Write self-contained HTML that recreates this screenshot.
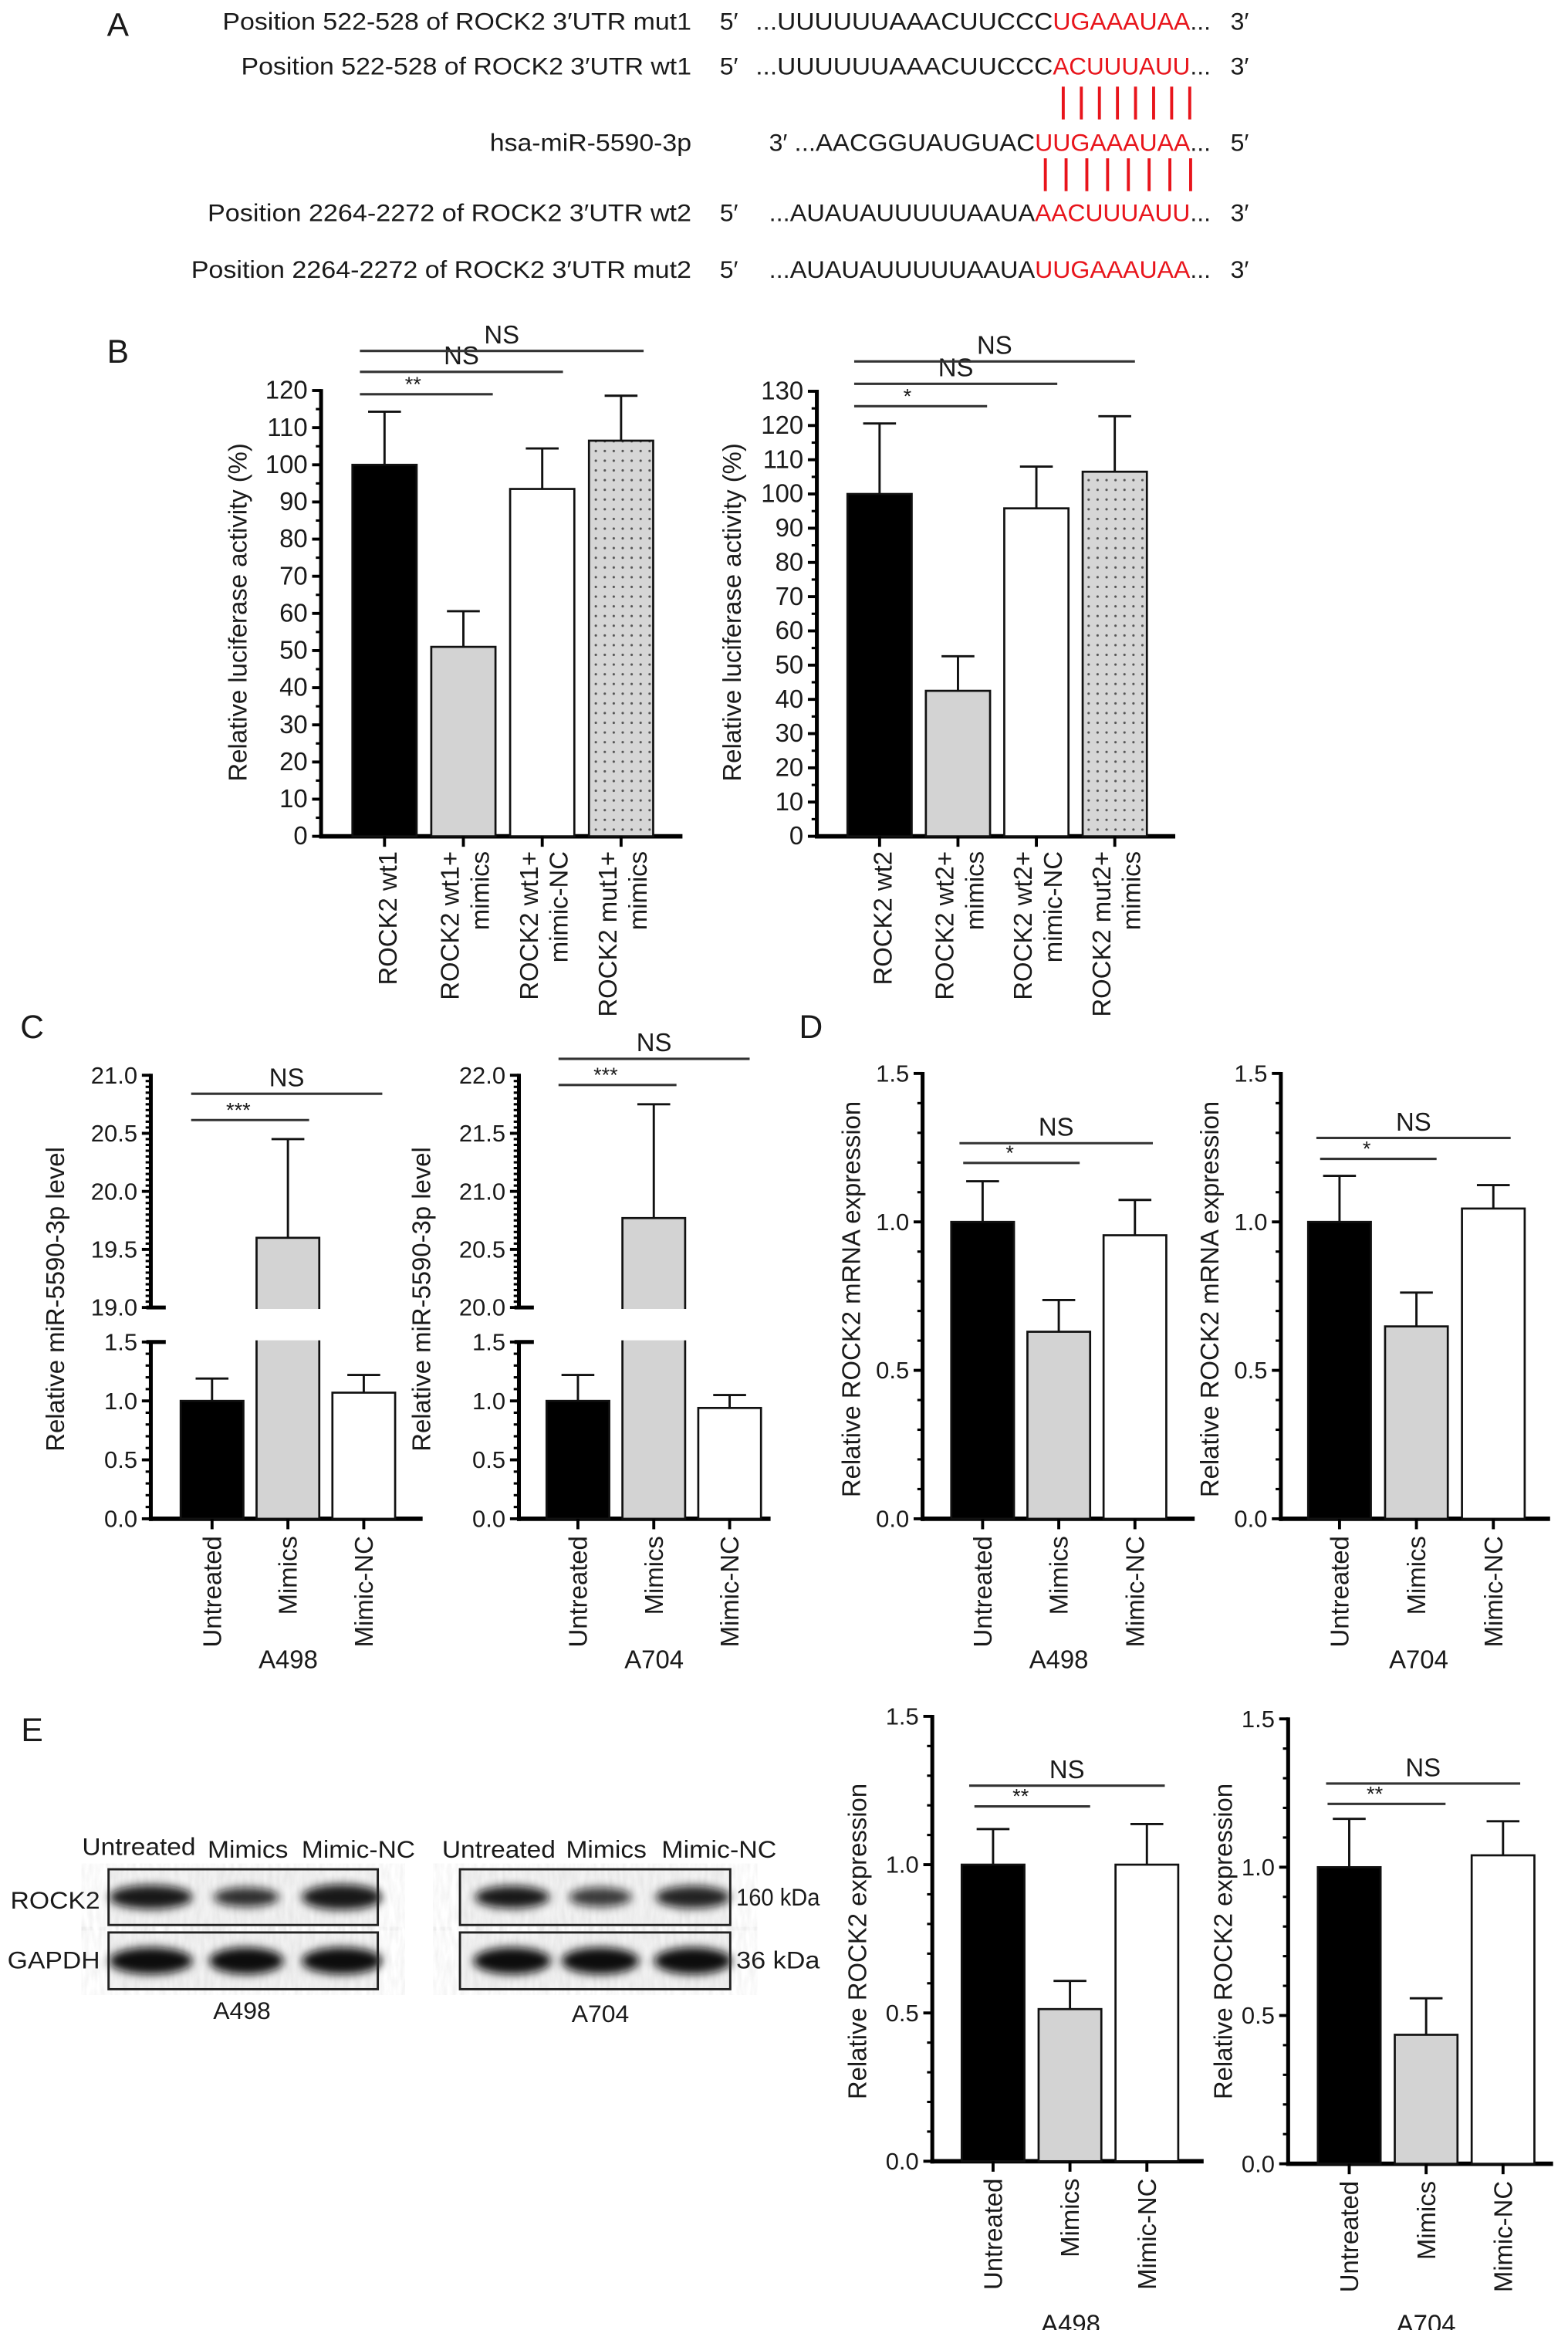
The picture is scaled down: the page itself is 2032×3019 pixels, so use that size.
<!DOCTYPE html>
<html><head><meta charset="utf-8"><style>
html,body{margin:0;padding:0;background:#fff}
svg{display:block}
text{font-family:"Liberation Sans",Arial,sans-serif;fill:#1a1a1a}
</style></head><body>
<svg id="fig" width="2032" height="3019" viewBox="0 0 1050 1560.2" preserveAspectRatio="none" xmlns="http://www.w3.org/2000/svg">
<defs>
<pattern id="dots" width="6" height="6.5" patternUnits="userSpaceOnUse">
<rect width="6" height="6.5" fill="#d6d6d6"/><circle cx="3" cy="3" r="0.8" fill="#555"/></pattern>
<filter id="blur" x="-30%" y="-60%" width="160%" height="220%"><feGaussianBlur stdDeviation="3"/></filter>
<filter id="noise"><feTurbulence type="fractalNoise" baseFrequency="0.35 0.08" numOctaves="2" seed="3"/><feColorMatrix type="matrix" values="0 0 0 0 0.3  0 0 0 0 0.3  0 0 0 0 0.3  0 0 0 0.35 -0.1"/></filter>
</defs>
<!-- Panel A -->
<g font-size="16.5">
<text x="79" y="24" font-size="22" text-anchor="middle">A</text>
<text x="149" y="20" textLength="314" lengthAdjust="spacingAndGlyphs">Position 522-528 of ROCK2 3′UTR mut1</text>
<text x="482" y="20">5′</text>
<text x="506" y="20" textLength="199" lengthAdjust="spacingAndGlyphs">...UUUUUUAAACUUCCC</text>
<text x="705" y="20" textLength="92" lengthAdjust="spacingAndGlyphs" style="fill:#e8141b">UGAAAUAA</text>
<text x="797" y="20">...</text>
<text x="824" y="20">3′</text>

<text x="161.5" y="50" textLength="301.5" lengthAdjust="spacingAndGlyphs">Position 522-528 of ROCK2 3′UTR wt1</text>
<text x="482" y="50">5′</text>
<text x="506" y="50" textLength="199" lengthAdjust="spacingAndGlyphs">...UUUUUUAAACUUCCC</text>
<text x="705" y="50" textLength="92" lengthAdjust="spacingAndGlyphs" style="fill:#e8141b">ACUUUAUU</text>
<text x="797" y="50">...</text>
<text x="824" y="50">3′</text>

<text x="328" y="101" textLength="135" lengthAdjust="spacingAndGlyphs">hsa-miR-5590-3p</text>
<text x="515" y="101">3′</text>
<text x="532" y="101" textLength="161" lengthAdjust="spacingAndGlyphs">...AACGGUAUGUAC</text>
<text x="693" y="101" textLength="104" lengthAdjust="spacingAndGlyphs" style="fill:#e8141b">UUGAAAUAA</text>
<text x="797" y="101">...</text>
<text x="824" y="101">5′</text>

<text x="139" y="148" textLength="324" lengthAdjust="spacingAndGlyphs">Position 2264-2272 of ROCK2 3′UTR wt2</text>
<text x="482" y="148">5′</text>
<text x="515" y="148" textLength="178" lengthAdjust="spacingAndGlyphs">...AUAUAUUUUUAAUA</text>
<text x="693" y="148" textLength="104" lengthAdjust="spacingAndGlyphs" style="fill:#e8141b">AACUUUAUU</text>
<text x="797" y="148">...</text>
<text x="824" y="148">3′</text>

<text x="128" y="186" textLength="335" lengthAdjust="spacingAndGlyphs">Position 2264-2272 of ROCK2 3′UTR mut2</text>
<text x="482" y="186">5′</text>
<text x="515" y="186" textLength="178" lengthAdjust="spacingAndGlyphs">...AUAUAUUUUUAAUA</text>
<text x="693" y="186" textLength="104" lengthAdjust="spacingAndGlyphs" style="fill:#e8141b">UUGAAAUAA</text>
<text x="797" y="186">...</text>
<text x="824" y="186">3′</text>
<g id="pairs" stroke="#e8141b" stroke-width="2"></g>
</g>

<text x="79" y="243" font-size="22" text-anchor="middle">B</text>
<text x="21.5" y="695" font-size="22" text-anchor="middle">C</text>
<text x="543" y="695" font-size="22" text-anchor="middle">D</text>
<text x="21.5" y="1166" font-size="22" text-anchor="middle">E</text>

<!-- Western blots -->
<g font-size="16.5">
<text x="55" y="1242" textLength="76" lengthAdjust="spacingAndGlyphs">Untreated</text>
<text x="139" y="1244" textLength="54" lengthAdjust="spacingAndGlyphs">Mimics</text>
<text x="202" y="1244" textLength="76" lengthAdjust="spacingAndGlyphs">Mimic-NC</text>
<text x="296" y="1244" textLength="76" lengthAdjust="spacingAndGlyphs">Untreated</text>
<text x="379" y="1244" textLength="54" lengthAdjust="spacingAndGlyphs">Mimics</text>
<text x="443" y="1244" textLength="77" lengthAdjust="spacingAndGlyphs">Mimic-NC</text>
<text x="7" y="1278" textLength="60" lengthAdjust="spacingAndGlyphs">ROCK2</text>
<text x="5" y="1318" textLength="62" lengthAdjust="spacingAndGlyphs">GAPDH</text>
<text x="493" y="1276" textLength="56" lengthAdjust="spacingAndGlyphs">160 kDa</text>
<text x="493" y="1318" textLength="56" lengthAdjust="spacingAndGlyphs">36 kDa</text>
<text x="162" y="1352" text-anchor="middle">A498</text>
<text x="402" y="1354" text-anchor="middle">A704</text>
<g id="blots"></g>
</g>
<g id="charts"></g>
</svg>
<script>
// ---- data arrays ----
const catsB1 = [["ROCK2 wt1"],["ROCK2 wt1+","mimics"],["ROCK2 wt1+","mimic-NC"],["ROCK2 mut1+","mimics"]];
const valsB1 = [100, 51, 93.5, 106.5];
const errsB1 = [114.3, 60.6, 104.4, 118.6];
const ticksB1 = [0,10,20,30,40,50,60,70,80,90,100,110,120];
const catsB2 = [["ROCK2 wt2"],["ROCK2 wt2+","mimics"],["ROCK2 wt2+","mimic-NC"],["ROCK2 mut2+","mimics"]];
const valsB2 = [100, 42.5, 95.8, 106.5];
const errsB2 = [120.6, 52.6, 108, 122.7];
const ticksB2 = [0,10,20,30,40,50,60,70,80,90,100,110,120,130];
const catsCDE = ["Untreated","Mimics","Mimic-NC"];
const valsC1 = [1.0, 19.6, 1.07];
const errsC1 = [1.19, 20.45, 1.22];
const valsC2 = [1.0, 20.77, 0.94];
const errsC2 = [1.22, 21.75, 1.05];
const ticksCLow = ["0.0","0.5","1.0","1.5"];
const ticksC1High = ["19.0","19.5","20.0","20.5","21.0"];
const ticksC2High = ["20.0","20.5","21.0","21.5","22.0"];
const valsD1 = [1.0, 0.63, 0.955];
const errsD1 = [1.137, 0.737, 1.074];
const valsD2 = [1.0, 0.648, 1.045];
const errsD2 = [1.155, 0.762, 1.124];
const valsE1 = [1.0, 0.513, 1.0];
const errsE1 = [1.12, 0.608, 1.137];
const valsE2 = [1.0, 0.435, 1.04];
const errsE2 = [1.163, 0.558, 1.155];
const ticksDE = ["0.0","0.5","1.0","1.5"];

const NS = "http://www.w3.org/2000/svg";
const root = document.getElementById('charts');
function el(tag, attrs, parent, txt){
  const e = document.createElementNS(NS, tag);
  for (const k in attrs) e.setAttribute(k, attrs[k]);
  if (txt !== undefined) e.textContent = txt;
  (parent || root).appendChild(e);
  return e;
}
const fills = ["#000","#d3d3d3","#fff","url(#dots)"];

// base-pair lines
const pg = document.getElementById('pairs');
for (let i=0;i<8;i++){
  const x1 = 712 + i*12.1;
  const l1 = el('line',{x1:x1,x2:x1,y1:58,y2:80},pg);
  
  
  const x2 = 700 + i*13.9;
  const l2 = el('line',{x1:x2,x2:x2,y1:106,y2:128},pg);
  
  
}

// blots
const bg = document.getElementById('blots');
function blot(x0, y0, w, h, centers, widths, dark, name){
  const g = el('g',{},bg);
  
  
  el('rect',{x:x0,y:y0,width:w,height:h,fill:'#f2f2f2'},g);
  el('rect',{x:x0,y:y0,width:w,height:h,filter:'url(#noise)',opacity:0.6},g);
  centers.forEach((c,i)=>{
    const b = el('ellipse',{cx:c,cy:y0+h/2,rx:widths[i]/2,ry:dark[i][1],fill:'#111',opacity:dark[i][0],filter:'url(#blur)'},g);
    
    
  });
  el('rect',{x:x0,y:y0,width:w,height:h,fill:'none',stroke:'#222','stroke-width':1.5},g);
}
blot(72.7,1251.7,180.3,37.3,[101,165,229],[56,44,54],[[0.95,8],[0.85,6.5],[0.95,8.5]],'blot-a498-rock2');
blot(72.7,1294,180.3,38,[101,165,229],[56,50,54],[[1,9],[1,9],[1,9]],'blot-a498-gapdh');
blot(308,1251.7,181,37.3,[343,402,464],[50,42,50],[[0.95,7.5],[0.8,6.5],[0.9,7.5]],'blot-a704-rock2');
blot(308,1294,181,38,[343,402,464],[52,52,52],[[1,9],[1,9],[1,9]],'blot-a704-gapdh');

// generic bar chart
function chart(cfg){
  const g = el('g',{});
  
  
  const n = cfg.vals.length;
  const xc = i => cfg.x0 + cfg.step*i;
  const yv = v => cfg.y0 - (v - cfg.vmin)/(cfg.vmax - cfg.vmin)*(cfg.y0 - cfg.yTop);
  // y axis
  el('line',{x1:cfg.ax,x2:cfg.ax,y1:cfg.yTop-1,y2:cfg.y0+1.5,stroke:'#000','stroke-width':2.6},g);
  el('line',{x1:cfg.ax-1.3,x2:cfg.xEnd,y1:cfg.y0,y2:cfg.y0,stroke:'#000','stroke-width':3},g);
  cfg.ticks.forEach(t=>{
    const v = parseFloat(t), y = yv(v);
    el('line',{x1:cfg.ax-6,x2:cfg.ax,y1:y,y2:y,stroke:'#000','stroke-width':2},g);
    const tl = el('text',{x:cfg.ax-9,y:y+5.5,'text-anchor':'end','font-size':cfg.tfs||16},g,t);
    
    
  });
  for (let k=0;k<(cfg.ticks.length-1)*cfg.minor;k++){
    const v0 = parseFloat(cfg.ticks[0]), v1 = parseFloat(cfg.ticks[1]);
    if (k % cfg.minor === 0) continue;
    const y = yv(v0 + (v1-v0)*k/cfg.minor);
    el('line',{x1:cfg.ax-3.5,x2:cfg.ax,y1:y,y2:y,stroke:'#000','stroke-width':1.6},g);
  }
  // bars
  cfg.vals.forEach((v,i)=>{
    const c = xc(i);
    const top = cfg.topFn ? cfg.topFn(i,v) : yv(v);
    const bot = cfg.y0;
    const bar = el('rect',{x:c-cfg.bw/2,y:top,width:cfg.bw,height:bot-top,fill:fills[i],stroke:'#111','stroke-width':1.4},g);
    
    
    const et = cfg.topFn ? cfg.topFn(i,cfg.errs[i]) : yv(cfg.errs[i]);
    const eb = el('path',{d:`M${c} ${top} V${et} M${c-11} ${et} H${c+11}`,stroke:'#111','stroke-width':1.5,fill:'none'},g);
    
    
    el('line',{x1:c,x2:c,y1:cfg.y0,y2:cfg.y0+7,stroke:'#000','stroke-width':2},g);
    // x labels
    const lines = cfg.cats[i];
    const ty = cfg.y0 + cfg.labGap;
    if (lines.length === 1){
      const t = el('text',{x:c+cfg.lab1dx,y:ty,'text-anchor':'end','font-size':cfg.lfs,transform:`rotate(-90 ${c+cfg.lab1dx} ${ty})`},g,lines[0]);
      
      
    } else {
      lines.forEach((s,j)=>{
        const xx = c + (j===0 ? -3 : 17);
        const t = el('text',{x:xx,y:ty,'text-anchor':'end','font-size':cfg.lfs,transform:`rotate(-90 ${xx} ${ty})`},g,s);
        
        
      });
    }
  });
  // y title
  const yt = el('text',{x:cfg.titleX,y:cfg.titleY,'text-anchor':'middle','font-size':cfg.titleFs||17,transform:`rotate(-90 ${cfg.titleX} ${cfg.titleY})`},g,cfg.title);
  
  
  // significance
  cfg.sig.forEach(s=>{
    const l = el('line',{x1:s[0],x2:s[1],y1:s[2],y2:s[2],stroke:'#333','stroke-width':1.6},g);
    
    
    const isNS = s[3]==='NS';
    const t = el('text',{x:(s[0]+s[1])/2 + (isNS?0:-(s[1]-s[0])*0.1),y:s[2]-(isNS?5:2),'text-anchor':'middle','font-size':isNS?17:14},g,s[3]);
    
    
  });
  if (cfg.caption){
    const cp = el('text',{x:cfg.caption[0],y:cfg.caption[1],'text-anchor':'middle','font-size':17},g,cfg.caption[2]);
    
    
  }
  return {g,yv,xc};
}

// B charts
chart({name:'chart-b-wt1',ax:215,y0:560,yTop:261.5,vmin:0,vmax:120,xEnd:457,x0:257.5,step:52.8,bw:43,
  vals:valsB1,errs:errsB1,cats:catsB1,catsName:['wt1','wt1-mimics','wt1-mimic-nc','mut1-mimics'],
  ticks:ticksB1.map(String),minor:2,tfs:17,lfs:17,labGap:10,lab1dx:8,
  title:'Relative luciferase activity (%)',titleX:165,titleY:410,
  sig:[[241,330,264,'**'],[241,377,249,'NS'],[241,431,235,'NS']]});
chart({name:'chart-b-wt2',ax:547,y0:560,yTop:262,vmin:0,vmax:130,xEnd:787,x0:589,step:52.5,bw:43,
  vals:valsB2,errs:errsB2,cats:catsB2,catsName:['wt2','wt2-mimics','wt2-mimic-nc','mut2-mimics'],
  ticks:ticksB2.map(String),minor:2,tfs:17,lfs:17,labGap:10,lab1dx:8,
  title:'Relative luciferase activity (%)',titleX:496,titleY:410,
  sig:[[572,661,272,'*'],[572,708,257,'NS'],[572,760,242,'NS']]});

// C charts (broken axis)
function chartC(name, ax, x0, xEnd, vals, errs, hiTicks, hiMin, hiMax, titleX, sig, cap){
  const yLow = v => 1017 - v/1.5*(1017-898.6);
  const yHigh = v => 875.5 - (v-hiMin)/(hiMax-hiMin)*(875.5-720);
  const topFn = (i,v) => v > 5 ? yHigh(v) : yLow(v);
  const r = chart({name:name,ax:ax,y0:1017,yTop:898.6,vmin:0,vmax:1.5,xEnd:xEnd,x0:x0,step:50.8,bw:42,
    vals:vals,errs:errs,cats:catsCDE.map(s=>[s]),catsName:['untreated','mimics','mimic-nc'],
    ticks:ticksCLow,minor:5,lfs:17,labGap:11.5,lab1dx:6,topFn:topFn,
    title:'Relative miR-5590-3p level',titleX:titleX,titleY:870,sig:sig,caption:cap});
  const g = r.g;
  // white gap between segments
  el('rect',{x:ax-10,y:876.5,width:xEnd-ax+20,height:21,fill:'#fff'},g);
  el('line',{x1:ax,x2:ax,y1:719,y2:876.5,stroke:'#000','stroke-width':2.6},g);
  el('line',{x1:ax-3,x2:ax+10,y1:875.5,y2:875.5,stroke:'#000','stroke-width':2.6},g);
  el('line',{x1:ax-3,x2:ax+10,y1:898.6,y2:898.6,stroke:'#000','stroke-width':2.6},g);
  hiTicks.forEach(t=>{
    const y = yHigh(parseFloat(t));
    el('line',{x1:ax-6,x2:ax,y1:y,y2:y,stroke:'#000','stroke-width':2},g);
    const tl = el('text',{x:ax-9,y:y+5.5,'text-anchor':'end','font-size':16},g,t);
    
    
  });
  for (let k=1;k<40;k++){ if(k%10===0)continue; const y=yHigh(hiMin+(hiMax-hiMin)*k/40);
    el('line',{x1:ax-3.5,x2:ax,y1:y,y2:y,stroke:'#000','stroke-width':1.6},g);}
}
chartC('chart-c-a498',101,142,283,valsC1,errsC1,ticksC1High,19,21,43,[[128,207,750,'***'],[128,256,732.4,'NS']],[193,1117,'A498']);
chartC('chart-c-a704',347.5,387,516,valsC2,errsC2,ticksC2High,20,22,288,[[374,453,726.5,'***'],[374,502,709,'NS']],[438,1117,'A704']);

// D charts
chart({name:'chart-d-a498',ax:617.8,y0:1017,yTop:718.8,vmin:0,vmax:1.5,xEnd:800,x0:658,step:51,bw:42,
  vals:valsD1,errs:errsD1,cats:catsCDE.map(s=>[s]),catsName:['untreated','mimics','mimic-nc'],
  ticks:ticksDE,minor:5,lfs:17,labGap:11.5,lab1dx:6,
  title:'Relative ROCK2 mRNA expression',titleX:576,titleY:870,
  sig:[[645,723,778.7,'*'],[642.5,772,765.5,'NS']],caption:[709,1117,'A498']});
chart({name:'chart-d-a704',ax:857.7,y0:1017,yTop:718.8,vmin:0,vmax:1.5,xEnd:1038,x0:897,step:51.5,bw:42,
  vals:valsD2,errs:errsD2,cats:catsCDE.map(s=>[s]),catsName:['untreated','mimics','mimic-nc'],
  ticks:ticksDE,minor:5,lfs:17,labGap:11.5,lab1dx:6,
  title:'Relative ROCK2 mRNA expression',titleX:816,titleY:870,
  sig:[[884,962,776,'*'],[881.5,1011.6,762,'NS']],caption:[950,1117,'A704']});

// E charts
chart({name:'chart-e-a498',ax:624.3,y0:1447.2,yTop:1149.3,vmin:0,vmax:1.5,xEnd:806,x0:665,step:51.5,bw:42,
  vals:valsE1,errs:errsE1,cats:catsCDE.map(s=>[s]),catsName:['untreated','mimics','mimic-nc'],
  ticks:ticksDE,minor:5,lfs:17,labGap:11.5,lab1dx:6,
  title:'Relative ROCK2 expression',titleX:580,titleY:1300,
  sig:[[652.5,730,1209.6,'**'],[649,780,1195.7,'NS']],caption:[717,1562,'A498']});
chart({name:'chart-e-a704',ax:862.6,y0:1448.9,yTop:1151,vmin:0,vmax:1.5,xEnd:1040,x0:903.5,step:51.5,bw:42,
  vals:valsE2,errs:errsE2,cats:catsCDE.map(s=>[s]),catsName:['untreated','mimics','mimic-nc'],
  ticks:ticksDE,minor:5,lfs:17,labGap:11.5,lab1dx:6,
  title:'Relative ROCK2 expression',titleX:825,titleY:1300,
  sig:[[889,968,1207.9,'**'],[888,1018,1194.3,'NS']],caption:[955,1562,'A704']});
</script>
</body></html>
